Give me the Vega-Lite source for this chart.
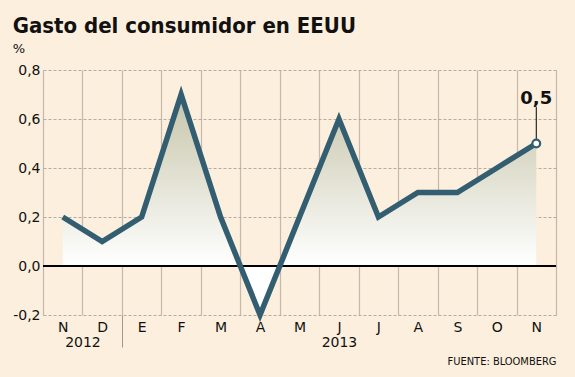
{
  "$schema": "https://vega.github.io/schema/vega-lite/v6.json",
  "width": 513,
  "height": 245,
  "autosize": {"type": "none"},
  "padding": {"left": 43, "top": 70, "right": 19, "bottom": 62},
  "background": "#fcefdd",
  "title": {
    "text": "Gasto del consumidor en EEUU",
    "subtitle": "%",
    "anchor": "start",
    "frame": "bounds",
    "font": "DejaVu Sans Condensed, Liberation Sans Narrow, DejaVu Sans",
    "fontSize": 22,
    "fontWeight": "bold",
    "color": "#111111",
    "subtitleFont": "DejaVu Sans",
    "subtitleFontSize": 13,
    "subtitleColor": "#111111",
    "subtitlePadding": 5,
    "offset": 6
  },
  "config": {
    "view": {"stroke": null},
    "locale": {"number": {"decimal": ",", "thousands": ".", "grouping": [3], "currency": ["", " €"], "minus": "-"}},
    "axis": {"labelFont": "DejaVu Sans", "labelColor": "#111111", "titleFont": "DejaVu Sans"}
  },
  "data": {
    "values": [
      {"i": 0, "mes": "N", "v": 0.2},
      {"i": 1, "mes": "D", "v": 0.1},
      {"i": 2, "mes": "E", "v": 0.2},
      {"i": 3, "mes": "F", "v": 0.7},
      {"i": 4, "mes": "M", "v": 0.2},
      {"i": 5, "mes": "A", "v": -0.2},
      {"i": 6, "mes": "M", "v": 0.2},
      {"i": 7, "mes": "J", "v": 0.6},
      {"i": 8, "mes": "J", "v": 0.2},
      {"i": 9, "mes": "A", "v": 0.3},
      {"i": 10, "mes": "S", "v": 0.3},
      {"i": 11, "mes": "O", "v": 0.4},
      {"i": 12, "mes": "N", "v": 0.5}
    ]
  },
  "resolve": {"axis": {"x": "independent"}},
  "layer": [
    {
      "mark": {
        "type": "area",
        "color": {
          "gradient": "linear", "x1": 0, "y1": 0, "x2": 0, "y2": 1,
          "stops": [
            {"offset": 0, "color": "#c6c5aa"},
            {"offset": 0.778, "color": "#ffffff"},
            {"offset": 1, "color": "#ffffff"}
          ]
        }
      },
      "encoding": {
        "x": {
          "field": "i", "type": "quantitative",
          "scale": {"domain": [-0.5, 12.5], "nice": false, "zero": false},
          "axis": {
            "orient": "bottom",
            "values": [-0.5, 0.5, 1.5, 2.5, 3.5, 4.5, 5.5, 6.5, 7.5, 8.5, 9.5, 10.5, 11.5, 12.5],
            "grid": true, "gridColor": "#c4b9ad", "gridWidth": 1.2,
            "labels": false, "ticks": false, "domain": false, "title": null
          }
        },
        "y": {
          "field": "v", "type": "quantitative",
          "scale": {"domain": [-0.2, 0.8], "nice": false},
          "axis": {
            "values": [-0.2, 0, 0.2, 0.4, 0.6, 0.8],
            "format": ".1f",
            "grid": true, "gridDash": [3, 2], "gridColor": "#b5aca2",
            "ticks": false, "domain": false, "title": null,
            "labelFontSize": 14, "labelPadding": 3
          }
        },
        "y2": {"datum": 0}
      }
    },
    {
      "mark": {"type": "rule", "color": "#000000", "strokeWidth": 1.5},
      "encoding": {"y": {"datum": 0}}
    },
    {
      "mark": {"type": "line", "color": "#335e71", "strokeWidth": 5.5, "strokeJoin": "miter"},
      "encoding": {
        "x": {
          "field": "i", "type": "quantitative",
          "axis": {
            "orient": "bottom",
            "values": [0, 1, 2, 3, 4, 5, 6, 7, 8, 9, 10, 11, 12],
            "labelExpr": "['N','D','E','F','M','A','M','J','J','A','S','O','N'][datum.value]",
            "labelFontSize": 14, "labelPadding": 5,
            "grid": false, "ticks": false, "domain": false,
            "title": "FUENTE: BLOOMBERG",
            "titleAnchor": "end",
            "titleFont": "DejaVu Sans Condensed, Liberation Sans Narrow, DejaVu Sans",
            "titleFontSize": 11, "titleFontWeight": "normal", "titleColor": "#111111",
            "titlePadding": 21
          }
        },
        "y": {"field": "v", "type": "quantitative"}
      }
    },
    {
      "transform": [{"filter": "datum.i == 12"}],
      "mark": {"type": "rule", "color": "#000000", "strokeWidth": 1},
      "encoding": {
        "x": {
          "field": "i", "type": "quantitative",
          "axis": {
            "orient": "bottom",
            "values": [0.5, 1.5, 7],
            "labelExpr": "datum.value == 0.5 ? '2012' : datum.value == 7 ? '2013' : ''",
            "labelFontSize": 14, "labelPadding": -12,
            "grid": false, "domain": false, "title": null,
            "ticks": true, "tickSize": 32, "tickColor": "#9e9890", "tickWidth": 1,
            "tickOpacity": {"condition": {"test": "datum.value == 1.5", "value": 1}, "value": 0}
          }
        },
        "y": {"field": "v", "type": "quantitative"},
        "y2": {"datum": 0.65}
      }
    },
    {
      "transform": [{"filter": "datum.i == 12"}],
      "mark": {"type": "point", "filled": true, "fill": "#ffffff", "stroke": "#335e71", "strokeWidth": 2.2, "size": 60, "opacity": 1},
      "encoding": {
        "x": {"field": "i", "type": "quantitative", "axis": null},
        "y": {"field": "v", "type": "quantitative"}
      }
    },
    {
      "transform": [{"filter": "datum.i == 12"}],
      "mark": {"type": "text", "font": "DejaVu Sans", "fontWeight": "bold", "fontSize": 18, "color": "#111111", "baseline": "alphabetic", "dy": -3},
      "encoding": {
        "x": {"field": "i", "type": "quantitative", "axis": null},
        "y": {"datum": 0.65},
        "text": {"field": "v", "type": "quantitative", "format": ".1f"}
      }
    }
  ]
}
